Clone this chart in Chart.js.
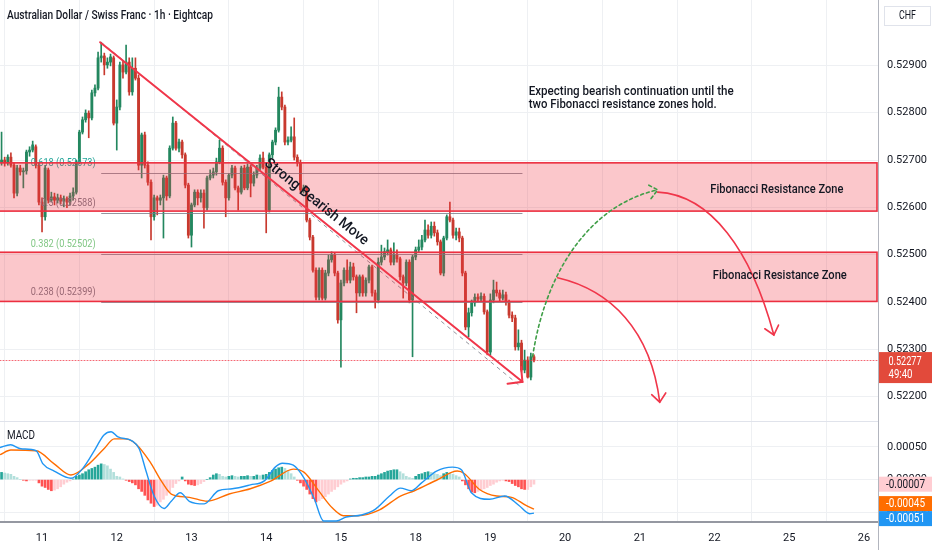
<!DOCTYPE html>
<html>
<head>
<meta charset="utf-8">
<title>Australian Dollar / Swiss Franc · 1h · Eightcap</title>
<script src="https://cdn.jsdelivr.net/npm/chart.js@4.4.1/dist/chart.umd.min.js"></script>
<style>
html,body{margin:0;padding:0;background:#ffffff;}
body{width:932px;height:550px;overflow:hidden;position:relative;}
canvas{position:absolute;left:0;display:block;}
#pricePane{top:0;}
#macdPane{top:421px;}
</style>
</head>
<body>
<canvas id="pricePane" width="932" height="421" style="width:932px;height:421px"></canvas>
<canvas id="macdPane" width="932" height="129" style="width:932px;height:129px"></canvas>
<script>
// ---------------- DATA ----------------
// hourly bars; bar index 0 = first bar of the 11th, 24 bars per trading day
const firstBar = -13;
const open = [
0.52696,0.52700,0.52694,0.52706,0.52689,0.52630,0.52683,0.52675,0.52677,0.52717,0.52721,0.52728,0.52689,
0.52611,0.52580,0.52679,0.52615,0.52622,0.52615,0.52620,0.52613,0.52618,0.52611,0.52624,0.52632,
0.52696,0.52759,0.52785,0.52799,0.52789,0.52842,0.52852,0.52916,0.52920,0.52901,0.52907,0.52916,
0.52778,0.52812,0.52901,0.52886,0.52907,0.52844,0.52894,0.52873,0.52689,0.52753,0.52689,0.52653,
0.52580,0.52620,0.52615,0.52620,0.52662,0.52624,0.52725,0.52778,0.52725,0.52738,0.52711,0.52647,
0.52541,0.52605,0.52632,0.52620,0.52630,0.52599,0.52662,0.52668,0.52675,0.52696,0.52725,0.52653,
0.52620,0.52668,0.52683,0.52641,0.52632,0.52683,0.52641,0.52685,0.52651,0.52668,0.52683,0.52704,
0.52685,0.52594,0.52711,0.52738,0.52763,0.52833,0.52812,0.52738,0.52742,0.52749,0.52706,0.52694,
0.52637,0.52641,0.52573,0.52537,0.52467,0.52410,0.52467,0.52408,0.52461,0.52489,0.52499,0.52461,
0.52362,0.52440,0.52467,0.52446,0.52474,0.52453,0.52419,0.52453,0.52419,0.52446,0.52474,0.52419,
0.52404,0.52484,0.52495,0.52506,0.52510,0.52484,0.52499,0.52491,0.52453,0.52440,0.52484,0.52404,
0.52495,0.52510,0.52516,0.52531,0.52552,0.52541,0.52560,0.52546,0.52527,0.52461,0.52535,0.52580,
0.52573,0.52541,0.52548,0.52535,0.52461,0.52347,0.52377,0.52398,0.52410,0.52406,0.52412,0.52379,
0.52294,0.52404,0.52425,0.52419,0.52408,0.52415,0.52400,0.52372,0.52366,0.52305,0.52313,0.52256,
0.52277,0.52241,0.52284];
const high = [
0.52759,0.52706,0.52711,0.52715,0.52694,0.52689,0.52689,0.52683,0.52721,0.52728,0.52740,0.52732,0.52694,
0.52620,0.52689,0.52683,0.52632,0.52630,0.52628,0.52626,0.52624,0.52622,0.52630,0.52641,0.52700,
0.52763,0.52791,0.52806,0.52804,0.52848,0.52859,0.52928,0.52949,0.52926,0.52916,0.52924,0.52920,
0.52827,0.52907,0.52911,0.52943,0.52916,0.52916,0.52916,0.52880,0.52757,0.52759,0.52696,0.52658,
0.52626,0.52624,0.52626,0.52668,0.52666,0.52730,0.52791,0.52782,0.52744,0.52742,0.52715,0.52651,
0.52609,0.52637,0.52637,0.52637,0.52637,0.52666,0.52679,0.52683,0.52704,0.52742,0.52730,0.52658,
0.52672,0.52689,0.52687,0.52645,0.52687,0.52689,0.52692,0.52689,0.52675,0.52689,0.52711,0.52717,
0.52689,0.52715,0.52742,0.52768,0.52854,0.52844,0.52816,0.52749,0.52770,0.52789,0.52711,0.52700,
0.52647,0.52645,0.52577,0.52541,0.52472,0.52472,0.52472,0.52467,0.52499,0.52506,0.52503,0.52465,
0.52446,0.52472,0.52489,0.52484,0.52482,0.52457,0.52457,0.52457,0.52451,0.52478,0.52478,0.52425,
0.52493,0.52520,0.52514,0.52531,0.52514,0.52525,0.52510,0.52495,0.52457,0.52489,0.52489,0.52499,
0.52516,0.52531,0.52541,0.52573,0.52563,0.52569,0.52569,0.52552,0.52531,0.52539,0.52584,0.52611,
0.52577,0.52556,0.52556,0.52539,0.52465,0.52387,0.52404,0.52417,0.52417,0.52419,0.52417,0.52383,
0.52417,0.52446,0.52442,0.52425,0.52425,0.52421,0.52404,0.52379,0.52372,0.52341,0.52319,0.52298,
0.52284,0.52292,0.52288];
const low = [
0.52689,0.52687,0.52689,0.52685,0.52620,0.52624,0.52668,0.52641,0.52670,0.52708,0.52717,0.52683,0.52605,
0.52548,0.52573,0.52609,0.52611,0.52605,0.52609,0.52607,0.52601,0.52599,0.52605,0.52615,0.52628,
0.52692,0.52755,0.52780,0.52747,0.52785,0.52835,0.52848,0.52907,0.52880,0.52894,0.52899,0.52774,
0.52721,0.52806,0.52873,0.52882,0.52837,0.52837,0.52869,0.52679,0.52662,0.52683,0.52647,0.52531,
0.52573,0.52584,0.52605,0.52535,0.52615,0.52620,0.52721,0.52721,0.52717,0.52704,0.52641,0.52535,
0.52516,0.52601,0.52605,0.52611,0.52556,0.52594,0.52658,0.52662,0.52668,0.52692,0.52647,0.52580,
0.52615,0.52662,0.52637,0.52594,0.52628,0.52637,0.52637,0.52622,0.52645,0.52662,0.52679,0.52681,
0.52546,0.52590,0.52704,0.52732,0.52759,0.52806,0.52732,0.52732,0.52738,0.52700,0.52687,0.52632,
0.52630,0.52569,0.52531,0.52463,0.52404,0.52404,0.52404,0.52404,0.52455,0.52484,0.52455,0.52355,
0.52262,0.52434,0.52440,0.52440,0.52446,0.52377,0.52412,0.52412,0.52412,0.52440,0.52412,0.52387,
0.52398,0.52478,0.52489,0.52499,0.52478,0.52478,0.52484,0.52446,0.52408,0.52434,0.52398,0.52284,
0.52489,0.52506,0.52510,0.52527,0.52535,0.52535,0.52539,0.52520,0.52457,0.52455,0.52531,0.52569,
0.52535,0.52531,0.52527,0.52455,0.52341,0.52326,0.52370,0.52391,0.52400,0.52402,0.52374,0.52288,
0.52288,0.52398,0.52412,0.52402,0.52404,0.52393,0.52366,0.52358,0.52298,0.52298,0.52252,0.52250,
0.52239,0.52235,0.52273];
const close = [
0.52700,0.52694,0.52706,0.52689,0.52630,0.52683,0.52675,0.52677,0.52717,0.52721,0.52732,0.52689,0.52611,
0.52580,0.52683,0.52615,0.52622,0.52615,0.52620,0.52613,0.52618,0.52611,0.52624,0.52632,0.52696,
0.52759,0.52785,0.52799,0.52789,0.52842,0.52852,0.52916,0.52920,0.52901,0.52907,0.52918,0.52778,
0.52812,0.52901,0.52886,0.52907,0.52844,0.52894,0.52873,0.52689,0.52753,0.52689,0.52653,0.52580,
0.52620,0.52615,0.52620,0.52662,0.52624,0.52725,0.52778,0.52725,0.52738,0.52711,0.52647,0.52541,
0.52605,0.52632,0.52620,0.52630,0.52599,0.52662,0.52668,0.52675,0.52696,0.52725,0.52653,0.52620,
0.52668,0.52683,0.52641,0.52632,0.52683,0.52641,0.52685,0.52651,0.52668,0.52683,0.52704,0.52685,
0.52594,0.52711,0.52738,0.52763,0.52833,0.52812,0.52738,0.52742,0.52749,0.52706,0.52694,0.52637,
0.52641,0.52573,0.52537,0.52467,0.52410,0.52467,0.52408,0.52461,0.52489,0.52499,0.52461,0.52362,
0.52440,0.52467,0.52446,0.52474,0.52453,0.52419,0.52453,0.52419,0.52446,0.52474,0.52419,0.52404,
0.52484,0.52495,0.52506,0.52510,0.52484,0.52499,0.52491,0.52453,0.52440,0.52484,0.52404,0.52495,
0.52510,0.52516,0.52531,0.52552,0.52541,0.52560,0.52546,0.52527,0.52461,0.52535,0.52580,0.52573,
0.52541,0.52548,0.52535,0.52461,0.52347,0.52377,0.52398,0.52410,0.52406,0.52412,0.52379,0.52294,
0.52404,0.52425,0.52419,0.52408,0.52415,0.52400,0.52372,0.52366,0.52305,0.52313,0.52256,0.52277,
0.52241,0.52284,0.52277];

// MACD histogram, one value per bar
const histogram = [
0.00011,0.00010,0.00009,0.00008,0.00005,0.00003,0.00000,-0.00001,-0.00002,-0.00001,-0.00001,-0.00001,-0.00005,
-0.00010,-0.00012,-0.00015,-0.00017,-0.00016,-0.00014,-0.00011,-0.00007,-0.00004,-0.00002,0.00001,0.00005,
0.00007,0.00009,0.00012,0.00015,0.00017,0.00019,0.00022,0.00024,0.00023,0.00021,0.00016,0.00011,
0.00005,0.00004,0.00001,-0.00001,-0.00003,-0.00005,-0.00008,-0.00014,-0.00018,-0.00024,-0.00031,-0.00036,
-0.00041,-0.00039,-0.00034,-0.00030,-0.00024,-0.00019,-0.00012,-0.00006,-0.00002,0.00004,-0.00002,-0.00007,
-0.00008,-0.00009,-0.00008,-0.00006,-0.00003,0.00000,0.00003,0.00007,0.00009,0.00008,0.00005,0.00004,
0.00005,0.00006,0.00005,0.00004,0.00005,0.00005,0.00006,0.00005,0.00005,0.00007,0.00006,0.00007,
0.00008,0.00011,0.00014,0.00016,0.00018,0.00019,0.00017,0.00014,0.00009,0.00004,-0.00001,-0.00005,
-0.00010,-0.00015,-0.00022,-0.00029,-0.00034,-0.00032,-0.00029,-0.00026,-0.00022,-0.00018,-0.00015,-0.00011,
-0.00007,-0.00004,-0.00002,0.00001,0.00002,0.00002,0.00003,0.00003,0.00004,0.00004,0.00005,0.00005,
0.00007,0.00009,0.00011,0.00013,0.00014,0.00015,0.00015,0.00012,0.00009,0.00005,0.00003,0.00002,
0.00005,0.00008,0.00009,0.00011,0.00012,0.00011,0.00009,0.00008,0.00006,0.00009,0.00011,0.00010,
0.00008,0.00006,0.00004,-0.00002,-0.00008,-0.00014,-0.00019,-0.00020,-0.00018,-0.00016,-0.00014,-0.00012,
-0.00009,-0.00007,-0.00004,-0.00002,-0.00001,-0.00002,-0.00003,-0.00006,-0.00009,-0.00011,-0.00014,-0.00015,
-0.00015,-0.00011,-0.00007];

// MACD line (blue) and signal line (orange): points read at bar positions
const macdK = [-13.5,-10.1,-6.8,-1.9,0.3,3.9,9.3,12.9,16.4,19.9,22.2,24.4,28.9,31.2,33.4,36,39.2,41.5,44.4,47.3,52.1,56.6,61.1,66.9,71.4,74.9,77.2,80.7,84.2,87.5,90.4,94.5,97.7,102.6,107.1,111.6,115.1,118.6,121.9,126.7,131.8,134.7,137.9,143.7,148.6,153.1,156.6,158];
const macdLine = [0.00049,0.00053,0.00047,0.00044,0.00024,0.00013,0.00002,0.00016,0.00041,0.00068,0.00073,0.00065,0.00059,0.00047,0.00013,-0.00025,-0.00044,-0.00033,-0.00020,-0.00033,-0.00037,-0.00017,-0.00014,-0.00008,-0.00002,0.00019,0.00025,0.00022,0.00002,-0.00030,-0.00063,-0.00063,-0.00057,-0.00054,-0.00045,-0.00025,-0.00013,-0.00017,-0.00005,0.00013,0.00019,0.00015,-0.00020,-0.00030,-0.00025,-0.00039,-0.00052,-0.00051];
const signalK = [-13.5,-10,-1.9,3.9,9.3,15.1,19.9,23.2,26.7,30.2,34.7,38.3,41.5,47.3,53.1,60.1,66.9,73.6,80.7,84.2,88.7,93.2,96.8,101.3,108.4,115.1,119.6,126.7,133.4,135.7,140.5,146,150.8,155.3,158];
const signalLine = [0.00038,0.00045,0.00044,0.00024,0.00007,0.00024,0.00047,0.00062,0.00062,0.00054,0.00027,-0.00002,-0.00022,-0.00027,-0.00033,-0.00022,-0.00014,-0.00002,0.00016,0.00011,-0.00016,-0.00043,-0.00055,-0.00055,-0.00046,-0.00025,-0.00017,-0.00001,0.00013,0.00009,-0.00015,-0.00025,-0.00027,-0.00039,-0.00045];

// axes
const dayTicks  = [0,24,48,72,96,120,144,168,192,216,240,264];
const dayLabels = ['11','12','13','14','15','18','19','20','21','22','25','26'];
const priceTicks = [0.522,0.523,0.524,0.525,0.526,0.527,0.528,0.529];
const macdTicks = [-0.0005,0,0.0005];
const xRange = [-13.5,268.5];
const priceRange = [0.521482,0.530383];
const macdRange = [-0.000646,0.000893];

// drawings
const zoneUpper = [0.52592,0.52694];
const zoneLower = [0.52401,0.52505];
const fibRatios = ['0.618','0.5','0.382','0.238'];
const fibPrices = [0.52673,0.52588,0.52502,0.52399];
const fibSpan = [19,154.3];
const fibDiagonal = [[19,0.52949],[153,0.52225]];
const trendLine = [[18.65,0.52949],[154.3,0.52231]];
const bearishLabelAt = [88.1,0.52611];
const greenPath = [[157.56,0.52284],[161.74,0.52467],[176.2,0.52605],[197.75,0.52637]];
const redPath1  = [[165.6,0.52451],[182.6,0.52425],[195.5,0.52341],[198.4,0.52188]];
const redPath2  = [[197.75,0.52632],[214.8,0.52626],[227.7,0.52510],[235.05,0.52330]];
const noteAt = [156.3,0.52844,0.52816];
const zoneLabelAt = [236,0.52637,0.52455];
const lastPrice = 0.52277, countdown = '49:40';
const lastMacd = -0.00051, lastSignal = -0.00045, lastHist = -0.00007;

const titleText = 'Australian Dollar / Swiss Franc · 1h · Eightcap';
const noteLines = ['Expecting bearish continuation until the','two Fibonacci resistance zones hold.'];
const zoneText = 'Fibonacci Resistance Zone';
const moveText = 'Strong Bearish Move';

// ---------------- fonts ----------------
const mc = document.createElement('canvas').getContext('2d');
function hasFont(f){
  const s='abcdefghijklmnopqrstuvwxyz0123456789';
  mc.font='40px monospace'; const a=mc.measureText(s).width;
  mc.font='40px "'+f+'", monospace'; const b=mc.measureText(s).width;
  return Math.abs(a-b)>0.5;
}
const FAM = hasFont('Liberation Sans Narrow') ? '"Liberation Sans Narrow"' : (hasFont('Roboto') ? 'Roboto' : 'sans-serif');
mc.font = '12px '+FAM;
const tickSize = Math.max(11, Math.min(12.5, Math.round(12*35.5/mc.measureText('0.52900').width*10)/10));

function fitText(ctx,s,x,y,o){
  o=o||{};
  ctx.save();
  ctx.font=(o.weight||'normal')+' '+(o.size||12)+'px '+FAM;
  ctx.fillStyle=o.color||'#131722';
  ctx.textBaseline='middle';
  ctx.textAlign=o.align||'left';
  let sx=1;
  if(o.width){ sx=o.width/ctx.measureText(s).width; }
  ctx.translate(x,y); ctx.scale(sx,1); ctx.fillText(s,0,0);
  ctx.restore();
}
function seg(ctx,a,b){ctx.beginPath();ctx.moveTo(a[0],a[1]);ctx.lineTo(b[0],b[1]);ctx.stroke();}
function arrowHead(ctx,tip,from,len,ang){
  const a=Math.atan2(tip[1]-from[1],tip[0]-from[0]);
  ctx.beginPath();
  ctx.moveTo(tip[0]-len*Math.cos(a-ang),tip[1]-len*Math.sin(a-ang));
  ctx.lineTo(tip[0],tip[1]);
  ctx.lineTo(tip[0]-len*Math.cos(a+ang),tip[1]-len*Math.sin(a+ang));
  ctx.stroke();
}
function noPad(s){ s.paddingTop=0; s.paddingBottom=0; s.paddingLeft=0; s.paddingRight=0; }

// ---------------- styles ----------------
const UP='#23875f', DOWN='#c8392e';
const GRID='#eef0f3';
const bars = open.map((_,i)=>firstBar+i);
const candleColor = open.map((o,i)=> close[i]>=o ? UP : DOWN);
const histColor = histogram.map((h,i)=>{
  const p = i>0 ? histogram[i-1] : h;
  if(h>=0) return h>=p ? '#26a69a' : '#b2dfdb';
  return h<p ? '#ff5252' : '#ffcdd2';
});
const tickFont = {family:FAM,size:tickSize};

// ---------------- price pane ----------------
const priceOverlay = {
  id:'priceOverlay',
  afterDatasetsDraw(chart){
    const ctx=chart.ctx, a=chart.chartArea, xs=chart.scales.x, ys=chart.scales.y;
    const X=k=>xs.getPixelForValue(k), Y=p=>ys.getPixelForValue(p);
    ctx.save();
    ctx.beginPath(); ctx.rect(a.left,a.top,a.right-a.left,a.bottom-a.top); ctx.clip();

    // fib retracement lines + labels
    const fibColors=['#26a69a','#787b86','#81c784','#787b86'];
    ctx.lineWidth=1; ctx.strokeStyle='rgba(120,123,134,0.8)';
    fibPrices.forEach((p,i)=>{
      const y=Math.round(Y(p))+0.5;
      seg(ctx,[X(fibSpan[0]),y],[X(fibSpan[1]),y]);
      const lab=fibRatios[i]+' ('+p.toFixed(5)+')';
      fitText(ctx,lab,X(fibSpan[0])-5.5,y-10.5,{size:11,color:fibColors[i],align:'right',width: i===1?55:65});
    });
    ctx.save(); ctx.setLineDash([4,4]); ctx.strokeStyle='rgba(120,123,134,0.8)';
    seg(ctx,[X(fibDiagonal[0][0]),Y(fibDiagonal[0][1])],[X(fibDiagonal[1][0]),Y(fibDiagonal[1][1])]);
    ctx.restore();

    // resistance zones
    [zoneUpper,zoneLower].forEach(z=>{
      const y1=Y(z[1]), y2=Y(z[0]);
      ctx.fillStyle='rgba(242,54,69,0.28)';
      ctx.fillRect(a.left-3,y1,a.right-a.left+2,y2-y1);
      ctx.strokeStyle='#ec2f40'; ctx.lineWidth=1.6;
      ctx.strokeRect(a.left-3,y1,a.right-a.left+2,y2-y1);
    });

    // trend line
    const t0=[X(trendLine[0][0]),Y(trendLine[0][1])], t1=[X(trendLine[1][0]),Y(trendLine[1][1])];
    ctx.strokeStyle='#f0364a'; ctx.lineWidth=2; ctx.lineCap='round';
    seg(ctx,t0,t1); arrowHead(ctx,t1,t0,15,0.8);
    const ang=Math.atan2(t1[1]-t0[1],t1[0]-t0[0]);
    ctx.save(); ctx.translate(X(bearishLabelAt[0]),Y(bearishLabelAt[1])); ctx.rotate(ang);
    fitText(ctx,moveText,0,0,{size:14.5,width:129,align:'center',weight:'500'}); ctx.restore();

    // projected paths
    function path(pts,color,dash){
      const P=pts.map(q=>[X(q[0]),Y(q[1])]);
      ctx.save(); ctx.strokeStyle=color; ctx.lineWidth=1.6; ctx.setLineDash(dash||[]);
      ctx.beginPath(); ctx.moveTo(P[0][0],P[0][1]);
      ctx.bezierCurveTo(P[1][0],P[1][1],P[2][0],P[2][1],P[3][0],P[3][1]); ctx.stroke();
      arrowHead(ctx,P[3],P[2],11,0.7);
      ctx.restore();
    }
    path(greenPath,'#3f9e47',[3,3]);
    path(redPath1,'#f0364a');
    path(redPath2,'#f0364a');

    // texts
    fitText(ctx,noteLines[0],X(noteAt[0]),Y(noteAt[1]),{size:13,width:205,weight:'500'});
    fitText(ctx,noteLines[1],X(noteAt[0]),Y(noteAt[2]),{size:13,width:188,weight:'500'});
    fitText(ctx,zoneText,X(zoneLabelAt[0]),Y(zoneLabelAt[1]),{size:13.5,width:133,align:'center',weight:'500'});
    fitText(ctx,zoneText,X(zoneLabelAt[0])+3,Y(zoneLabelAt[2]),{size:13.5,width:134,align:'center',weight:'500'});

    // last price line
    const yl=Math.round(Y(lastPrice))+0.5;
    ctx.save(); ctx.setLineDash([1,2]); ctx.strokeStyle='rgba(242,54,69,0.75)'; ctx.lineWidth=1;
    seg(ctx,[a.left,yl],[a.right,yl]); ctx.restore();
    ctx.restore();

    fitText(ctx,titleText,7,15.5,{size:13.5,width:206,weight:'500'});
  },
  afterDraw(chart){
    const ctx=chart.ctx, a=chart.chartArea, ys=chart.scales.y;
    // currency box
    ctx.save();
    ctx.fillStyle='#ffffff'; ctx.fillRect(884.5,6.5,46,19);
    ctx.strokeStyle='#e0e3eb'; ctx.lineWidth=1; ctx.strokeRect(884.5,6.5,46,19);
    ctx.restore();
    fitText(ctx,'CHF',907.5,16,{size:12,width:17,align:'center'});
    // last price label
    const y=ys.getPixelForValue(lastPrice);
    ctx.save(); ctx.fillStyle='#e24a3b'; ctx.fillRect(a.right+1,y-8,932-a.right-1,31); ctx.restore();
    fitText(ctx,lastPrice.toFixed(5),888.5,y+1.5,{size:12.5,color:'#ffffff',width:33});
    fitText(ctx,countdown,888.5,y+15,{size:12.5,color:'#ffffff',width:24});
  }
};

new Chart(document.getElementById('pricePane'),{
  type:'bar',
  data:{datasets:[
    {label:'wick',data:bars.map((k,i)=>({x:k,y:[low[i],high[i]]})),backgroundColor:candleColor,barThickness:1,grouped:false,order:2},
    {label:'body',data:bars.map((k,i)=>({x:k,y:[open[i],close[i]]})),backgroundColor:candleColor,barThickness:2.2,minBarLength:1,grouped:false,order:1}
  ]},
  options:{
    responsive:false,animation:false,events:[],
    layout:{padding:0},
    plugins:{legend:{display:false},tooltip:{enabled:false}},
    scales:{
      x:{type:'linear',min:xRange[0],max:xRange[1],offset:false,
         grid:{color:GRID,drawTicks:false},border:{display:false},
         ticks:{display:false},
         afterBuildTicks:s=>{s.ticks=dayTicks.map(v=>({value:v}));},
         afterFit:s=>{s.height=0; noPad(s);}},
      y:{type:'linear',position:'right',min:priceRange[0],max:priceRange[1],
         grid:{color:GRID,drawTicks:false},border:{display:true,color:'#b2b5be',width:1},
         ticks:{font:tickFont,color:'#131722',padding:9,callback:v=>v.toFixed(5)},
         afterBuildTicks:s=>{s.ticks=priceTicks.map(v=>({value:v}));},
         afterFit:s=>{s.width=54; noPad(s);}}
    }
  },
  plugins:[priceOverlay]
});

// ---------------- MACD pane ----------------
const macdOverlay = {
  id:'macdOverlay',
  afterDraw(chart){
    const ctx=chart.ctx, a=chart.chartArea, ys=chart.scales.y;
    ctx.save();
    ctx.strokeStyle='#e0e3eb'; ctx.lineWidth=1; seg(ctx,[0,0.5],[a.right,0.5]);
    ctx.strokeStyle='#b2b5be'; seg(ctx,[a.right+0.5,a.bottom],[a.right+0.5,chart.height]);
    ctx.restore();
    fitText(ctx,'MACD',7,15,{size:12.5,width:28,color:'#131722'});
    // value labels, pushed apart when they overlap
    const h=15;
    let yh=ys.getPixelForValue(lastHist), yo=ys.getPixelForValue(lastSignal), yb=ys.getPixelForValue(lastMacd);
    if(yb-yo<h){const m=(yb+yo)/2; yo=m-h/2; yb=m+h/2;}
    if(yo-yh<h){yh=yo-h;}
    const labels=[[yh,'#ffcdd2','#131722',lastHist],[yo,'#ff6d00','#ffffff',lastSignal],[yb,'#2196f3','#ffffff',lastMacd]];
    labels.forEach(l=>{
      ctx.save(); ctx.fillStyle=l[1]; ctx.fillRect(a.right+1,l[0]-h/2,932-a.right-1,h); ctx.restore();
      fitText(ctx,l[3].toFixed(5),886,l[0]+0.5,{size:12.5,color:l[2],width:39});
    });
  }
};

new Chart(document.getElementById('macdPane'),{
  type:'bar',
  data:{datasets:[
    {type:'line',label:'MACD',data:macdK.map((k,i)=>({x:k,y:macdLine[i]})),borderColor:'#2196f3',borderWidth:1.4,pointRadius:0,cubicInterpolationMode:'monotone',order:1},
    {type:'line',label:'Signal',data:signalK.map((k,i)=>({x:k,y:signalLine[i]})),borderColor:'#ff6d00',borderWidth:1.4,pointRadius:0,cubicInterpolationMode:'monotone',order:2},
    {type:'bar',label:'Histogram',data:bars.map((k,i)=>({x:k,y:histogram[i]})),backgroundColor:histColor,barThickness:2,grouped:false,order:3}
  ]},
  options:{
    responsive:false,animation:false,events:[],
    layout:{padding:0},
    plugins:{legend:{display:false},tooltip:{enabled:false}},
    scales:{
      x:{type:'linear',min:xRange[0],max:xRange[1],offset:false,
         grid:{color:GRID,drawTicks:false},border:{display:true,color:'#9598a1',width:2},
         ticks:{font:tickFont,color:'#131722',padding:10,maxRotation:0,autoSkip:false,
                callback:v=>{const i=dayTicks.indexOf(v);return i>=0?dayLabels[i]:'';}},
         afterBuildTicks:s=>{s.ticks=dayTicks.map(v=>({value:v}));},
         afterFit:s=>{s.height=28; noPad(s);}},
      y:{type:'linear',position:'right',min:macdRange[0],max:macdRange[1],
         grid:{color:GRID,drawTicks:false},border:{display:true,color:'#b2b5be',width:1},
         ticks:{font:tickFont,color:'#131722',padding:9,callback:v=>v.toFixed(5)},
         afterBuildTicks:s=>{s.ticks=macdTicks.map(v=>({value:v}));},
         afterFit:s=>{s.width=54; noPad(s);}}
    }
  },
  plugins:[macdOverlay]
});
</script>
</body>
</html>
